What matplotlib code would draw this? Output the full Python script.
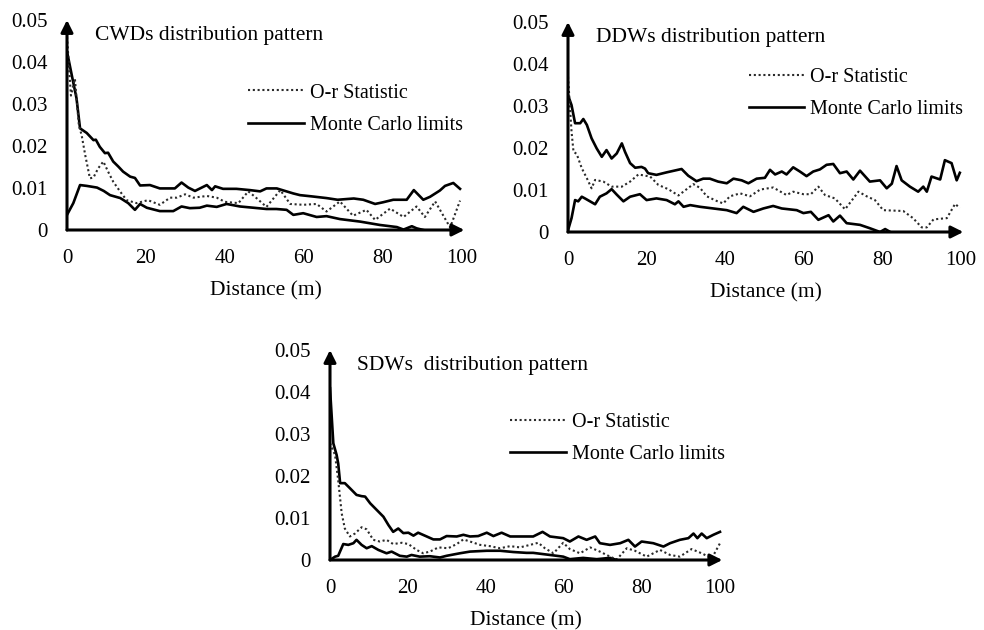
import matplotlib
matplotlib.use("Agg")
import matplotlib.pyplot as plt
from matplotlib.lines import Line2D

plt.rcParams['font.family'] = ['Liberation Serif', 'DejaVu Serif']

# ---------------- data ----------------
titles = ["CWDs distribution pattern", "DDWs distribution pattern", "SDWs  distribution pattern"]
legend_labels = ["O-r Statistic", "Monte Carlo limits"]
xlabel_text = "Distance (m)"
x_ticks = [0, 20, 40, 60, 80, 100]
y_ticks = [0, 0.01, 0.02, 0.03, 0.04, 0.05]
y_tick_labels = ["0", "0.01", "0.02", "0.03", "0.04", "0.05"]

cwd_upper_x = [0, 1.2, 2.4, 3.3, 5, 6.7, 7.3, 8.3, 9.6, 10.4, 11.7, 13, 14.2, 16, 17.2, 18.5, 21, 23.5,
               27.3, 29, 30.7, 32.4, 35.4, 36.7, 37.5, 39.5, 42.9, 46.3, 48.9, 50.5, 53.1, 57.3, 59, 62,
               65.7, 68.5, 72.6, 75, 78, 80, 82.6, 86, 87.8, 90.2, 91.9, 94.4, 95.7, 97.8, 99.5]
cwd_upper_y = [0.0425, 0.0369, 0.0314, 0.0242, 0.0231, 0.0214, 0.0215, 0.0198, 0.0183, 0.0184, 0.0163,
               0.0151, 0.0139, 0.0127, 0.0124, 0.0106, 0.0107, 0.0099, 0.0099, 0.0113, 0.0101, 0.0093,
               0.0107, 0.0095, 0.0104, 0.0098, 0.0098, 0.0095, 0.0092, 0.0099, 0.0099, 0.0087, 0.0083,
               0.0080, 0.0076, 0.0072, 0.0075, 0.0072, 0.0062, 0.0066, 0.0072, 0.0072, 0.0095, 0.0072,
               0.0079, 0.0094, 0.0105, 0.0112, 0.0098]
cwd_lower_x = [0, 1.6, 3.3, 5, 7.6, 9.3, 10.9, 13.5, 15.5, 17.2, 18.5, 20.2, 23.5, 26.9, 29, 31.1, 33.6,
               35.4, 37.9, 40.4, 43.8, 47.2, 50.5, 53, 55.6, 57.3, 59.8, 63.2, 65.7, 69.1, 74.2, 79.2,
               83.5, 85.2, 87.3, 88.5, 90.2]
cwd_lower_y = [0.0036, 0.0064, 0.0107, 0.0105, 0.0101, 0.0093, 0.0083, 0.0076, 0.0064, 0.0048, 0.0062,
               0.0053, 0.0045, 0.0045, 0.0056, 0.0052, 0.0053, 0.0058, 0.0055, 0.0062, 0.0056, 0.0053,
               0.0050, 0.0050, 0.0048, 0.0036, 0.0040, 0.0031, 0.0033, 0.0026, 0.0020, 0.0012, 0.0007,
               0.0001, 0.0009, 0.0004, 0.0]
cwd_stat_x = [0, 1.0, 2.0, 3.0, 3.7, 4.6, 5.8, 6.7, 7.9, 9.2, 10.4, 11.7, 13.5, 15.1, 17.6, 20.5, 23.5,
              26.1, 27.8, 29.9, 32, 35.4, 37.9, 40, 43.4, 45.9, 47.6, 50.5, 54, 56.5, 59.8, 63.2, 65.7,
              69.1, 72.4, 75.8, 78, 81.8, 85.2, 88.5, 90.6, 93.2, 97, 99.5]
cwd_stat_y = [0.046, 0.032, 0.036, 0.025, 0.0226, 0.0179, 0.0123, 0.0125, 0.0147, 0.0163, 0.0139, 0.0115,
              0.0091, 0.0071, 0.0064, 0.0071, 0.0060, 0.0077, 0.0077, 0.0085, 0.0077, 0.0081, 0.0077,
              0.0067, 0.0064, 0.0092, 0.0079, 0.0055, 0.0095, 0.0062, 0.0060, 0.0062, 0.0044, 0.0068,
              0.0034, 0.0048, 0.0024, 0.0051, 0.0031, 0.0056, 0.0031, 0.0068, 0.0006, 0.0070]

ddw_upper_x = [0, 0.9, 1.8, 3.1, 3.9, 4.8, 6, 7.3, 8.6, 9.8, 11.1, 12.4, 13.7, 14.5, 15.8, 17.1, 18.7,
               19.6, 20.4, 22.5, 25.1, 28.9, 30.6, 32.7, 34.4, 36.1, 38.2, 40.4, 42.1, 44.2, 45.9, 48,
               50.1, 51.4, 52.7, 54.4, 55.6, 57.3, 59, 60.7, 62.4, 64.1, 65.8, 67.5, 69.2, 70.9, 72.6,
               74.3, 76.8, 79.4, 81.1, 82.4, 83.6, 84.9, 87, 89.1, 90.4, 91.3, 92.5, 94.7, 95.9, 97.6,
               98.9, 99.7]
ddw_upper_y = [0.0326, 0.0302, 0.0259, 0.0259, 0.0269, 0.0255, 0.0223, 0.0199, 0.0179, 0.0195, 0.0175,
               0.0187, 0.0211, 0.0191, 0.0164, 0.0153, 0.0155, 0.0151, 0.0140, 0.0136, 0.0142, 0.0150,
               0.0134, 0.0121, 0.0127, 0.0127, 0.0120, 0.0116, 0.0127, 0.0123, 0.0116, 0.0127, 0.0129,
               0.0148, 0.0137, 0.0144, 0.0137, 0.0154, 0.0144, 0.0133, 0.0144, 0.0149, 0.0160, 0.0162,
               0.0140, 0.0144, 0.0125, 0.0146, 0.0120, 0.0123, 0.0104, 0.0115, 0.0157, 0.0123, 0.0108,
               0.0096, 0.0108, 0.0096, 0.0132, 0.0125, 0.0171, 0.0164, 0.0123, 0.0141]
ddw_lower_x = [0, 0.9, 1.8, 2.6, 3.5, 4.3, 5.6, 6.9, 8.1, 9.8, 11.1, 12.4, 14.1, 15.8, 18.3, 20, 22.5,
               25.1, 27.2, 28.1, 29.4, 31.1, 33.6, 37, 40.4, 42.9, 44.6, 47.2, 49.7, 52.2, 54.4, 58.2,
               59.9, 61.8, 63.7, 66.3, 67.5, 69.2, 70.9, 74.3, 76.8, 79.4, 80.7, 82]
ddw_lower_y = [0.0004, 0.0033, 0.0076, 0.0073, 0.0084, 0.0080, 0.0073, 0.0066, 0.0084, 0.0092, 0.0102,
               0.0089, 0.0073, 0.0084, 0.0090, 0.0076, 0.0080, 0.0076, 0.0066, 0.0073, 0.0060, 0.0064,
               0.0060, 0.0056, 0.0052, 0.0045, 0.0060, 0.0048, 0.0056, 0.0062, 0.0056, 0.0052, 0.0045,
               0.0048, 0.0029, 0.0040, 0.0025, 0.0039, 0.0021, 0.0017, 0.0009, 0.0, 0.0007, 0.0]
ddw_stat_x = [0, 0.9, 1.4, 2.2, 3.5, 4.8, 6, 6.9, 9, 11.1, 13.7, 15.8, 17.9, 20.9, 23, 25.5, 28.1, 30.2,
              31.9, 33.6, 35.3, 37.8, 39.5, 41.2, 43.8, 46.3, 48.9, 52.2, 55.6, 57.3, 59.9, 61.8, 63.7,
              65.4, 67.9, 70.5, 73.9, 76, 78.1, 80.2, 82.7, 85.3, 87.8, 90, 91.3, 93, 96.4, 98.5, 99.7]
ddw_stat_y = [0.037, 0.0239, 0.0191, 0.0186, 0.0152, 0.0128, 0.0104, 0.0124, 0.0120, 0.0108, 0.0108,
              0.0120, 0.0137, 0.0132, 0.0112, 0.0102, 0.0087, 0.0102, 0.0114, 0.0105, 0.0085, 0.0074,
              0.0068, 0.0085, 0.0092, 0.0085, 0.0101, 0.0106, 0.0088, 0.0096, 0.0090, 0.0090, 0.0108,
              0.0088, 0.0080, 0.0054, 0.0096, 0.0085, 0.0076, 0.0052, 0.0051, 0.0050, 0.0033, 0.0011,
              0.0011, 0.0030, 0.0033, 0.0067, 0.0057]

sdw_upper_x = [0, 0.85, 1.7, 2.1, 2.6, 3.8, 5.1, 6.8, 8.1, 9, 10.3, 12, 13.7, 15, 16.2, 17.5, 18.8, 20.1,
               21.4, 22.6, 24.8, 26.5, 28.2, 29.9, 32.5, 34.2, 35.9, 38, 40.2, 41.9, 44, 46.2, 48.7,
               52.1, 54.5, 56.4, 59.8, 61.5, 63.7, 65.8, 68, 69.2, 71.8, 74.4, 76.5, 78.2, 79.9, 82.9,
               85.5, 87.2, 89.7, 91.9, 93.2, 94.2, 95.3, 96.6, 98.3, 100]
sdw_upper_y = [0.0409, 0.0278, 0.0250, 0.0230, 0.0183, 0.0183, 0.0171, 0.0155, 0.0152, 0.0151, 0.0135,
               0.0119, 0.0103, 0.0083, 0.0067, 0.0075, 0.0064, 0.0065, 0.0058, 0.0065, 0.0056, 0.0049,
               0.0049, 0.0057, 0.0056, 0.0060, 0.0056, 0.0057, 0.0065, 0.0057, 0.0065, 0.0056, 0.0056,
               0.0056, 0.0067, 0.0056, 0.0052, 0.0044, 0.0056, 0.0048, 0.0056, 0.0040, 0.0036, 0.0040,
               0.0048, 0.0032, 0.0044, 0.0040, 0.0032, 0.0040, 0.0048, 0.0052, 0.0063, 0.0052, 0.0063,
               0.0052, 0.0060, 0.0067]
sdw_lower_x = [0, 1.3, 2.1, 3.4, 4.7, 6, 6.8, 8.1, 9.4, 10.7, 12.4, 14.5, 15.8, 17.9, 19.7, 20.9, 23,
               25.6, 28.2, 29.9, 33.3, 35.9, 40.2, 43.6, 47, 50.4, 52.1, 56.4, 59.8, 61.5, 64.9, 68.4,
               71.8, 73.5]
sdw_lower_y = [0.0, 0.0008, 0.0010, 0.0038, 0.0036, 0.0040, 0.0048, 0.0036, 0.0028, 0.0033, 0.0024,
               0.0016, 0.0020, 0.0010, 0.0008, 0.0012, 0.0008, 0.0009, 0.0006, 0.0010, 0.0016, 0.0020,
               0.0022, 0.0022, 0.0019, 0.0017, 0.0017, 0.0012, 0.0008, 0.0002, 0.0005, 0.0002, 0.0005, 0.0]
sdw_stat_x = [0, 1.3, 2.1, 3, 3.8, 5.1, 6.4, 8.1, 9.4, 11.1, 12.8, 14.5, 16.2, 18.4, 20.1, 22.2, 23.9,
              25.6, 27.8, 30.3, 32.5, 34.2, 35.9, 38.5, 41, 43.6, 46.2, 48.7, 51.3, 53.4, 55.1, 57.3,
              59.8, 61.5, 64.1, 66.7, 69.2, 71.8, 73.5, 76.1, 78.2, 81.2, 82.9, 84.6, 87.2, 89.7, 92.7,
              95.3, 97.9, 100]
sdw_stat_y = [0.0278, 0.0250, 0.0190, 0.0111, 0.0075, 0.0056, 0.0063, 0.0078, 0.0073, 0.0048, 0.0044,
              0.0048, 0.0038, 0.0041, 0.0038, 0.0024, 0.0016, 0.0020, 0.0030, 0.0028, 0.0038, 0.0049,
              0.0044, 0.0036, 0.0033, 0.0028, 0.0033, 0.0030, 0.0036, 0.0041, 0.0028, 0.0016, 0.0041,
              0.0026, 0.0016, 0.0030, 0.0020, 0.0008, 0.0001, 0.0028, 0.0022, 0.0008, 0.0016, 0.0024,
              0.0012, 0.0008, 0.0026, 0.0016, 0.0004, 0.0040]

panels = [
    (cwd_stat_x, cwd_stat_y, cwd_upper_x, cwd_upper_y, cwd_lower_x, cwd_lower_y),
    (ddw_stat_x, ddw_stat_y, ddw_upper_x, ddw_upper_y, ddw_lower_x, ddw_lower_y),
    (sdw_stat_x, sdw_stat_y, sdw_upper_x, sdw_upper_y, sdw_lower_x, sdw_lower_y),
]

# ---------------- layout ----------------
W, H = 984, 630
fig = plt.figure(figsize=(W / 100, H / 100), dpi=100)
# (left px, x=100 px, y=0 px, y=0.05 px)
boxes = [(67, 462, 230, 20), (568, 961, 232, 22), (330, 720, 560, 350)]
legend_anchor = [(0.456, 0.698), (0.458, 0.783), (0.460, 0.702)]
XMAX = 100.6

dot_style = (0, (1.0, 1.3))
FS = 15

for i, (sx, sy, ux, uy, lx, ly) in enumerate(panels):
    l, r100, y0, y5 = boxes[i]
    wpx = (r100 - l) * XMAX / 100
    ax = fig.add_axes([l / W, (H - y0) / H, wpx / W, (y0 - y5) / H])
    ax.set_xlim(0, XMAX)
    ax.set_ylim(0, 0.05)
    for s in ax.spines.values():
        s.set_visible(False)

    ax.plot(ux, uy, color='black', lw=1.9, solid_joinstyle='round')
    ax.plot(lx, ly, color='black', lw=1.9, solid_joinstyle='round')
    ax.plot(sx, sy, color='#2a2a2a', lw=1.5, linestyle=dot_style)

    # axis arrows
    arw = dict(arrowstyle='-|>', lw=2.2, color='black', mutation_scale=18, shrinkA=0, shrinkB=0)
    ax.annotate('', xy=(1.0, 0), xytext=(0, 0), xycoords='axes fraction', arrowprops=arw,
                annotation_clip=False)
    ax.annotate('', xy=(0, 1.0), xytext=(0, 0), xycoords='axes fraction', arrowprops=arw,
                annotation_clip=False)

    ax.set_xticks(x_ticks)
    ax.set_xticklabels([str(t) for t in x_ticks])
    ax.set_yticks(y_ticks)
    ax.set_yticklabels(y_tick_labels)
    ax.tick_params(axis='x', length=0, pad=14, labelsize=FS)
    ax.tick_params(axis='y', length=0, pad=14, labelsize=FS)
    ax.set_xlabel(xlabel_text, fontsize=15.5, labelpad=9.5)

    ax.text(7.0, 0.0464, titles[i], fontsize=15.5, ha='left', va='center')

    handles = [Line2D([], [], color='#2a2a2a', lw=1.5, linestyle=dot_style),
               Line2D([], [], color='black', lw=1.9)]
    ax.legend(handles, legend_labels, loc='upper left', bbox_to_anchor=legend_anchor[i],
              frameon=False, fontsize=14.5, handlelength=2.75, handletextpad=0.3,
              labelspacing=0.65, borderpad=0, borderaxespad=0)

fig.savefig('out.png', dpi=100)
